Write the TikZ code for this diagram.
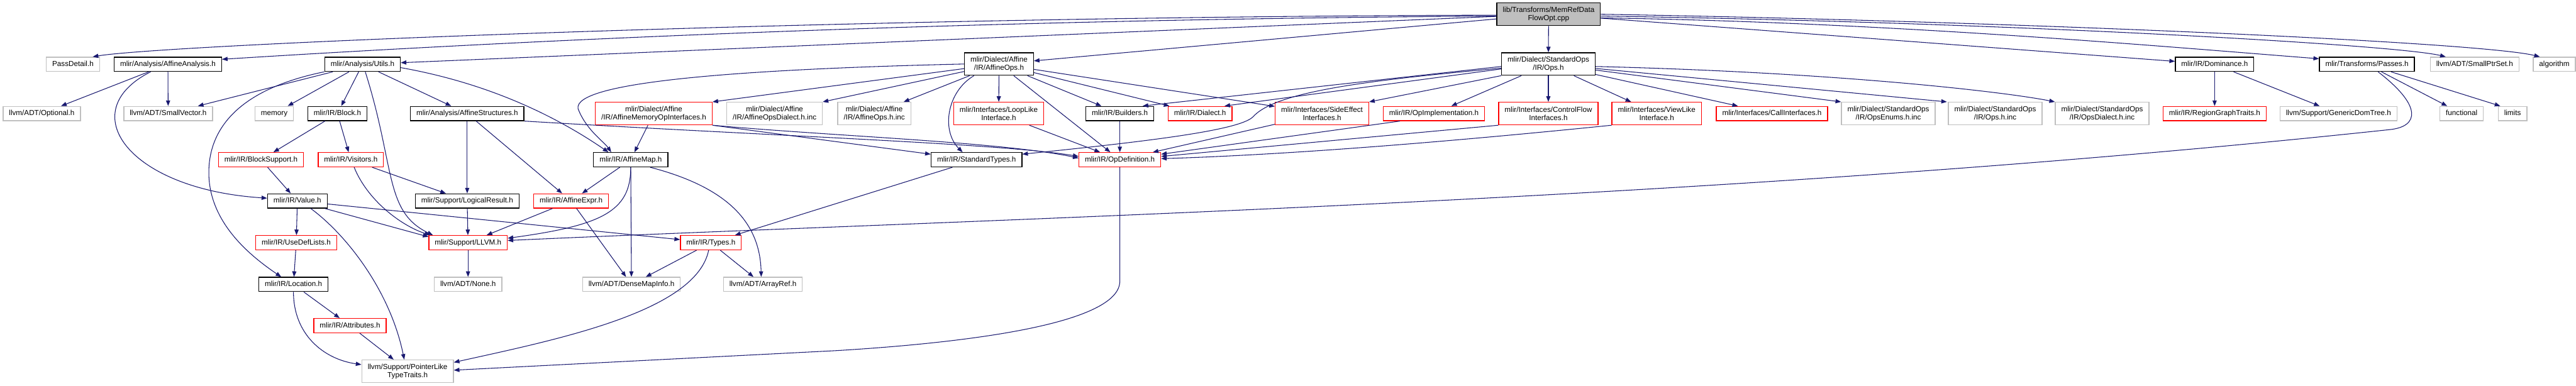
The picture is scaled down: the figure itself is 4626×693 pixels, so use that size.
\documentclass[tikz,border=0pt]{standalone}
\usepackage{fontspec}
\setmainfont{Liberation Sans}
\usetikzlibrary{arrows.meta}

\definecolor{edgeblue}{HTML}{191970}
\definecolor{leafgray}{HTML}{BFBFBF}
\definecolor{cutred}{HTML}{FF0000}

\begin{document}
\begin{tikzpicture}[x=1pt, y=-1pt,
    file/.style={draw=black, line width=1.5pt, rectangle, inner xsep=10.7pt, inner ysep=0pt,
        minimum height=25.6pt, text height=9.6pt, text depth=2.6pt,
        font=\fontsize{13.2}{14.5}\selectfont},
    twoline/.style={text height=, text depth=, align=center, minimum height=40.5pt},
    leaf/.style={file, draw=leafgray},
    cut/.style={file, draw=cutred},
    edge/.style={draw=edgeblue, line width=1.2pt, -{Triangle[length=10pt,width=7.5pt]}}]

    \fill[white] (0,0) rectangle (4626,693);
    \useasboundingbox (0,0) rectangle (4626,693);

    % --- the file itself ---
    \node[file, twoline, fill=leafgray] (src) at (2781,25.6) {lib/Transforms/MemRefData\\FlowOpt.cpp};

    % --- level 2 ---
    \node[leaf] (passdetail) at (131,115.5) {PassDetail.h};
    \node[file] (affanalysis) at (301.5,115.5) {mlir/Analysis/AffineAnalysis.h};
    \node[file] (utils) at (651,115.5) {mlir/Analysis/Utils.h};
    \node[file, twoline] (affops) at (1794,115) {mlir/Dialect/Affine\\/IR/AffineOps.h};
    \node[file, twoline] (stdops) at (2780.5,115) {mlir/Dialect/StandardOps\\/IR/Ops.h};
    \node[file] (dominance) at (3977,115.5) {mlir/IR/Dominance.h};
    \node[file] (passes) at (4250.5,115.5) {mlir/Transforms/Passes.h};
    \node[leaf] (smallptrset) at (4444,115.5) {llvm/ADT/SmallPtrSet.h};
    \node[leaf] (algorithm) at (4587,115.5) {algorithm};

    % --- level 3 ---
    \node[leaf] (optional) at (75,204) {llvm/ADT/Optional.h};
    \node[leaf] (smallvector) at (302,204) {llvm/ADT/SmallVector.h};
    \node[leaf] (memory) at (492.5,204) {memory};
    \node[file] (block) at (606,204) {mlir/IR/Block.h};
    \node[file] (affstruct) at (839,204) {mlir/Analysis/AffineStructures.h};
    \node[cut, twoline] (affmemif) at (1174,204) {mlir/Dialect/Affine\\/IR/AffineMemoryOpInterfaces.h};
    \node[leaf, twoline] (affdialinc) at (1391,204) {mlir/Dialect/Affine\\/IR/AffineOpsDialect.h.inc};
    \node[leaf, twoline] (affopsinc) at (1570,204) {mlir/Dialect/Affine\\/IR/AffineOps.h.inc};
    \node[cut, twoline] (looplike) at (1793.5,204) {mlir/Interfaces/LoopLike\\Interface.h};
    \node[file] (builders) at (2011,204) {mlir/IR/Builders.h};
    \node[cut] (dialect) at (2155,204) {mlir/IR/Dialect.h};
    \node[cut, twoline] (sideeffect) at (2374,204) {mlir/Interfaces/SideEffect\\Interfaces.h};
    \node[cut] (opimpl) at (2575,204) {mlir/IR/OpImplementation.h};
    \node[cut, twoline] (ctrlflow) at (2780.5,204) {mlir/Interfaces/ControlFlow\\Interfaces.h};
    \node[cut, twoline] (viewlike) at (2975,204) {mlir/Interfaces/ViewLike\\Interface.h};
    \node[cut] (callif) at (3182,204) {mlir/Interfaces/CallInterfaces.h};
    \node[leaf, twoline] (opsenums) at (3391,204) {mlir/Dialect/StandardOps\\/IR/OpsEnums.h.inc};
    \node[leaf, twoline] (opsinc) at (3583,204) {mlir/Dialect/StandardOps\\/IR/Ops.h.inc};
    \node[leaf, twoline] (opsdialinc) at (3775,204) {mlir/Dialect/StandardOps\\/IR/OpsDialect.h.inc};
    \node[cut] (regiongraph) at (3977,204) {mlir/IR/RegionGraphTraits.h};
    \node[leaf] (domtree) at (4199.5,204) {llvm/Support/GenericDomTree.h};
    \node[leaf] (functional) at (4420.6,204) {functional};
    \node[leaf] (limits) at (4512,204) {limits};

    % --- levels 4 to 9 ---
    \node[cut] (blocksupport) at (468.6,287) {mlir/IR/BlockSupport.h};
    \node[cut] (visitors) at (630,287) {mlir/IR/Visitors.h};
    \node[file] (affmap) at (1132.6,287) {mlir/IR/AffineMap.h};
    \node[file] (stdtypes) at (1753.6,287) {mlir/IR/StandardTypes.h};
    \node[cut] (opdef) at (2011,287) {mlir/IR/OpDefinition.h};

    \node[file] (value) at (534,361) {mlir/IR/Value.h};
    \node[file] (logicalres) at (839,361) {mlir/Support/LogicalResult.h};
    \node[cut] (affexpr) at (1025.6,361) {mlir/IR/AffineExpr.h};

    \node[cut] (usedef) at (532,436) {mlir/IR/UseDefLists.h};
    \node[cut] (llvmh) at (840.5,436) {mlir/Support/LLVM.h};
    \node[cut] (types) at (1276.6,436) {mlir/IR/Types.h};

    \node[file] (location) at (527,511) {mlir/IR/Location.h};
    \node[leaf] (none) at (840.5,511) {llvm/ADT/None.h};
    \node[leaf] (densemap) at (1134,511) {llvm/ADT/DenseMapInfo.h};
    \node[leaf] (arrayref) at (1370,511) {llvm/ADT/ArrayRef.h};

    \node[cut] (attributes) at (628.5,585) {mlir/IR/Attributes.h};
    \node[leaf, twoline] (ptrlike) at (732,667) {llvm/Support/PointerLike\\TypeTraits.h};

    % --- from the source file ---
    \draw[edge] (src.181) .. controls (1500,30) and (300,80) .. ([xshift=-13pt]passdetail.north east);
    \draw[edge] (src.182) .. controls (1700,35) and (900,75) .. ([yshift=9pt]affanalysis.east);
    \draw[edge] (src) -- (utils);
    \draw[edge] (src) -- (affops);
    \draw[edge] (src) -- (stdops);
    \draw[edge] (src) -- (dominance);
    \draw[edge] (src.-4) .. controls (3400,40) and (3900,85) .. ([yshift=10pt]passes.west);
    \draw[edge] (src.-2) .. controls (3600,40) and (4300,80) .. ([xshift=-52pt]smallptrset.north);
    \draw[edge] (src.east) .. controls (3600,38) and (4450,75) .. ([xshift=-26pt]algorithm.north);

    % --- StandardOps/IR/Ops.h ---
    \draw[edge] (stdops.183) -- ([xshift=41pt]builders.north);
    \draw[edge] (stdops.185) .. controls (2450,145) and (2290,165) .. (2250,210)
        .. controls (2225,235) and (2050,255) .. ([yshift=10pt]stdtypes.east);
    \draw[edge] (stdops.186) -- ([xshift=44pt]dialect.north);
    \draw[edge] (stdops.south west) -- (sideeffect.north east);
    \draw[edge] (stdops) -- (opimpl);
    \draw[edge] (stdops) -- (ctrlflow);
    \draw[edge] (stdops) -- (viewlike);
    \draw[edge] (stdops) -- (callif);
    \draw[edge] (stdops) -- (opsenums.north west);
    \draw[edge] (stdops) -- ([xshift=-2pt]opsinc.north west);
    \draw[edge] (stdops.-3) .. controls (3300,130) and (3600,165) .. (opsdialinc.north west);

    % --- Affine/IR/AffineOps.h ---
    \draw[edge] (affops.west) .. controls (1300,125) and (1010,150) .. (1040,200)
        .. controls (1055,235) and (1085,255) .. ([xshift=-35pt]affmap.north);
    \draw[edge] (affops) -- (affmemif.north east);
    \draw[edge] (affops) -- (affdialinc.north east);
    \draw[edge] (affops) -- (affopsinc);
    \draw[edge] ([xshift=-45pt]affops.south) .. controls (1700,165) and (1690,235) .. ([xshift=-25pt]stdtypes.north);
    \draw[edge] (affops) -- (looplike);
    \draw[edge] (affops) -- (opdef);
    \draw[edge] (affops) -- (builders);
    \draw[edge] (affops) -- (dialect);
    \draw[edge] (affops) -- (sideeffect);

    % --- Analysis headers ---
    \draw[edge] (utils) -- (smallvector);
    \draw[edge] (utils) -- (memory);
    \draw[edge] (utils) -- (block);
    \draw[edge] (utils.south west) .. controls (430,160) and (375,230) .. (375,310)
        .. controls (375,400) and (450,460) .. ([xshift=-22pt]location.north);
    \draw[edge] ([xshift=5pt]utils.south) .. controls (710,300) and (690,380) .. ([xshift=8pt]llvmh.north west);
    \draw[edge] (utils) -- (affstruct);
    \draw[edge] (utils.-5) .. controls (880,150) and (1000,210) .. ([xshift=-40pt]affmap.north);
    \draw[edge] (affanalysis) -- (optional);
    \draw[edge] (affanalysis) -- (smallvector);
    \draw[edge] ([xshift=-31pt]affanalysis.south) .. controls (130,200) and (230,340) .. ([yshift=5pt]value.west);

    % --- IR core, left part ---
    \draw[edge] (block) -- (blocksupport);
    \draw[edge] (block) -- (visitors);
    \draw[edge] (blocksupport) -- (value);
    \draw[edge] ([xshift=6pt]visitors.south) .. controls (660,360) and (720,405) .. ([xshift=3pt]llvmh.north west);
    \draw[edge] (visitors) -- (logicalres);
    \draw[edge] (value) -- (usedef);
    \draw[edge] (value) -- ([yshift=-3pt]llvmh.north west);
    \draw[edge] (value) -- (types);
    \draw[edge] ([xshift=24pt]value.south) .. controls (620,420) and (700,520) .. ([xshift=-6pt]ptrlike.north);
    \draw[edge] (usedef) -- (location);
    \draw[edge] (location) -- (attributes);
    \draw[edge] (location.south) .. controls (527,600) and (580,645) .. ([yshift=12pt]ptrlike.west);
    \draw[edge] (attributes) -- ([xshift=-25pt]ptrlike.north);

    % --- affine structures and maps ---
    \draw[edge] (affstruct) -- (logicalres);
    \draw[edge] (affstruct) -- (affexpr);
    \draw[edge] (affstruct.south east) .. controls (1400,245) and (1800,258) .. ([yshift=6pt]opdef.west);
    \draw[edge] (affmemif.south east) .. controls (1500,245) and (1800,255) .. ([yshift=3pt]opdef.west);
    \draw[edge] (affmemif.south east) -- ([yshift=10pt]stdtypes.west);
    \draw[edge] (affmemif) -- (affmap);
    \draw[edge] (affmap) -- (affexpr);
    \draw[edge] (affmap.south) .. controls (1133,380) and (1080,405) .. ([yshift=8pt]llvmh.east);
    \draw[edge] (affmap) -- (densemap);
    \draw[edge] ([xshift=35pt]affmap.south) .. controls (1320,340) and (1365,410) .. ([xshift=-3pt]arrayref.north);
    \draw[edge] (affexpr) -- (llvmh);
    \draw[edge] (affexpr) -- (densemap);
    \draw[edge] (logicalres) -- (llvmh);
    \draw[edge] (llvmh) -- (none);
    \draw[edge] (types) -- (densemap);
    \draw[edge] (types) -- (arrayref);
    \draw[edge] ([xshift=-4pt]types.south) .. controls (1250,560) and (1000,610) .. ([yshift=16pt]ptrlike.east);
    \draw[edge] (stdtypes) -- (types);

    % --- OpDefinition.h and the interfaces ---
    \draw[edge] (opdef.south) -- (2011,505) .. controls (2011,580) and (1750,615) .. (1500,630)
        -- ([yshift=2pt]ptrlike.east);
    \draw[edge] (builders) -- (opdef);
    \draw[edge] (looplike) -- (opdef);
    \draw[edge] (sideeffect) -- (opdef);
    \draw[edge] ([xshift=-61pt]opimpl.south) -- ([yshift=10pt]opdef.east);
    \draw[edge] (ctrlflow.south west) -- ([yshift=6pt]opdef.east);
    \draw[edge] (viewlike.south west) .. controls (2500,265) and (2250,280) .. ([yshift=2pt]opdef.east);

    % --- right part ---
    \draw[edge] (dominance) -- (regiongraph);
    \draw[edge] (dominance) -- (domtree);
    \draw[edge] (passes) -- (functional);
    \draw[edge] (passes) -- ([xshift=-22pt]limits.north);
    \draw[edge] ([xshift=20pt]passes.south) .. controls (4350,190) and (4345,228) .. (4290,233)
        .. controls (3100,360) and (1800,392) .. ([yshift=4pt]llvmh.east);
\end{tikzpicture}
\end{document}
